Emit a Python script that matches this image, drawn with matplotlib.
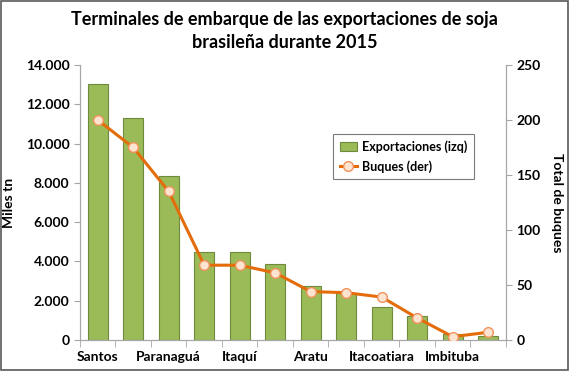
import numpy as np
import matplotlib.pyplot as plt
from matplotlib.patches import Rectangle

# =======================
#  Data
# =======================
terminales = ['Santos', 'Rio Grande', 'Paranaguá', 'São Francisco do Sul',
              'Itaquí', 'Vitória', 'Aratu', 'Santarém', 'Itacoatiara',
              'Barcarena', 'Imbituba', 'Salvador']
exportaciones = [13050, 11300, 8350, 4500, 4500, 3880, 2750, 2400, 1700, 1200, 300, 200]
buques = [200, 175, 135, 68, 68, 61, 44, 43, 39, 20, 3, 7]
yticks_izq = [0, 2000, 4000, 6000, 8000, 10000, 12000, 14000]
yticks_der = [0, 50, 100, 150, 200, 250]

plt.rcParams['font.family'] = ['Lato', 'DejaVu Sans']
plt.rcParams['font.weight'] = 'bold'

fig = plt.figure(figsize=(5.69, 3.71), dpi=100)
ax = fig.add_axes([0.1406, 0.0836, 0.7486, 0.7412])
ax2 = ax.twinx()

x = np.arange(len(terminales))
ax.bar(x, exportaciones, width=0.56, color='#9BBB59', edgecolor='#6E8B3D',
       linewidth=0.8, label='Exportaciones (izq)', zorder=2)
ax2.plot(x, buques, color='#E46C0A', linewidth=2.2, marker='o', markersize=7,
         markerfacecolor='#FDE4D0', markeredgecolor='#F0925A', markeredgewidth=1,
         label='Buques (der)', zorder=3)

ax.set_xlim(-0.5, len(terminales) - 0.5)
ax.set_ylim(0, 14000)
ax2.set_ylim(0, 250)
ax.set_yticks(yticks_izq)
ax.set_yticklabels([f'{v:,}'.replace(',', '.') for v in yticks_izq])
ax2.set_yticks(yticks_der)

ax.set_xticks(x[::2])
ax.set_xticklabels(terminales[::2])
ax.set_xticks(np.arange(-0.5, len(terminales)), minor=True)
ax.tick_params(axis='x', which='major', length=0, pad=8)
ax.tick_params(axis='x', which='minor', length=5, color='#A6A6A6', direction='out')

gris = '#A6A6A6'
for a in (ax, ax2):
    a.spines['top'].set_visible(False)
    for s in ('left', 'right', 'bottom'):
        a.spines[s].set_color(gris)
    a.tick_params(axis='y', length=4, color=gris, labelsize=10)
ax.tick_params(axis='x', labelsize=10)
ax.set_zorder(ax2.get_zorder() - 1)
ax.patch.set_visible(True)
ax2.patch.set_visible(False)

ax.set_ylabel('Miles tn', fontsize=10, fontweight='bold', labelpad=8)
ax2.set_ylabel('Total de buques', fontsize=10, fontweight='bold', rotation=270, labelpad=16)

fig.suptitle('Terminales de embarque de las exportaciones de soja\nbrasileña durante 2015',
             fontsize=13, fontweight='bold', y=0.97, linespacing=1.4)

h1, l1 = ax.get_legend_handles_labels()
h2, l2 = ax2.get_legend_handles_labels()
leg = ax2.legend(h1 + h2, l1 + l2, loc='upper left', bbox_to_anchor=(0.595, 0.75),
                 borderaxespad=0, frameon=True, fancybox=False, fontsize=9,
                 handlelength=1.4, handletextpad=0.4, borderpad=0.5, labelspacing=0.6)
leg.get_frame().set_edgecolor('#595959')
leg.get_frame().set_linewidth(0.8)

fig.patches.append(Rectangle((0.002, 0.003), 0.996, 0.994, transform=fig.transFigure,
                             fill=False, edgecolor='#595959', linewidth=1.2))

fig.savefig('out.png', dpi=100)
